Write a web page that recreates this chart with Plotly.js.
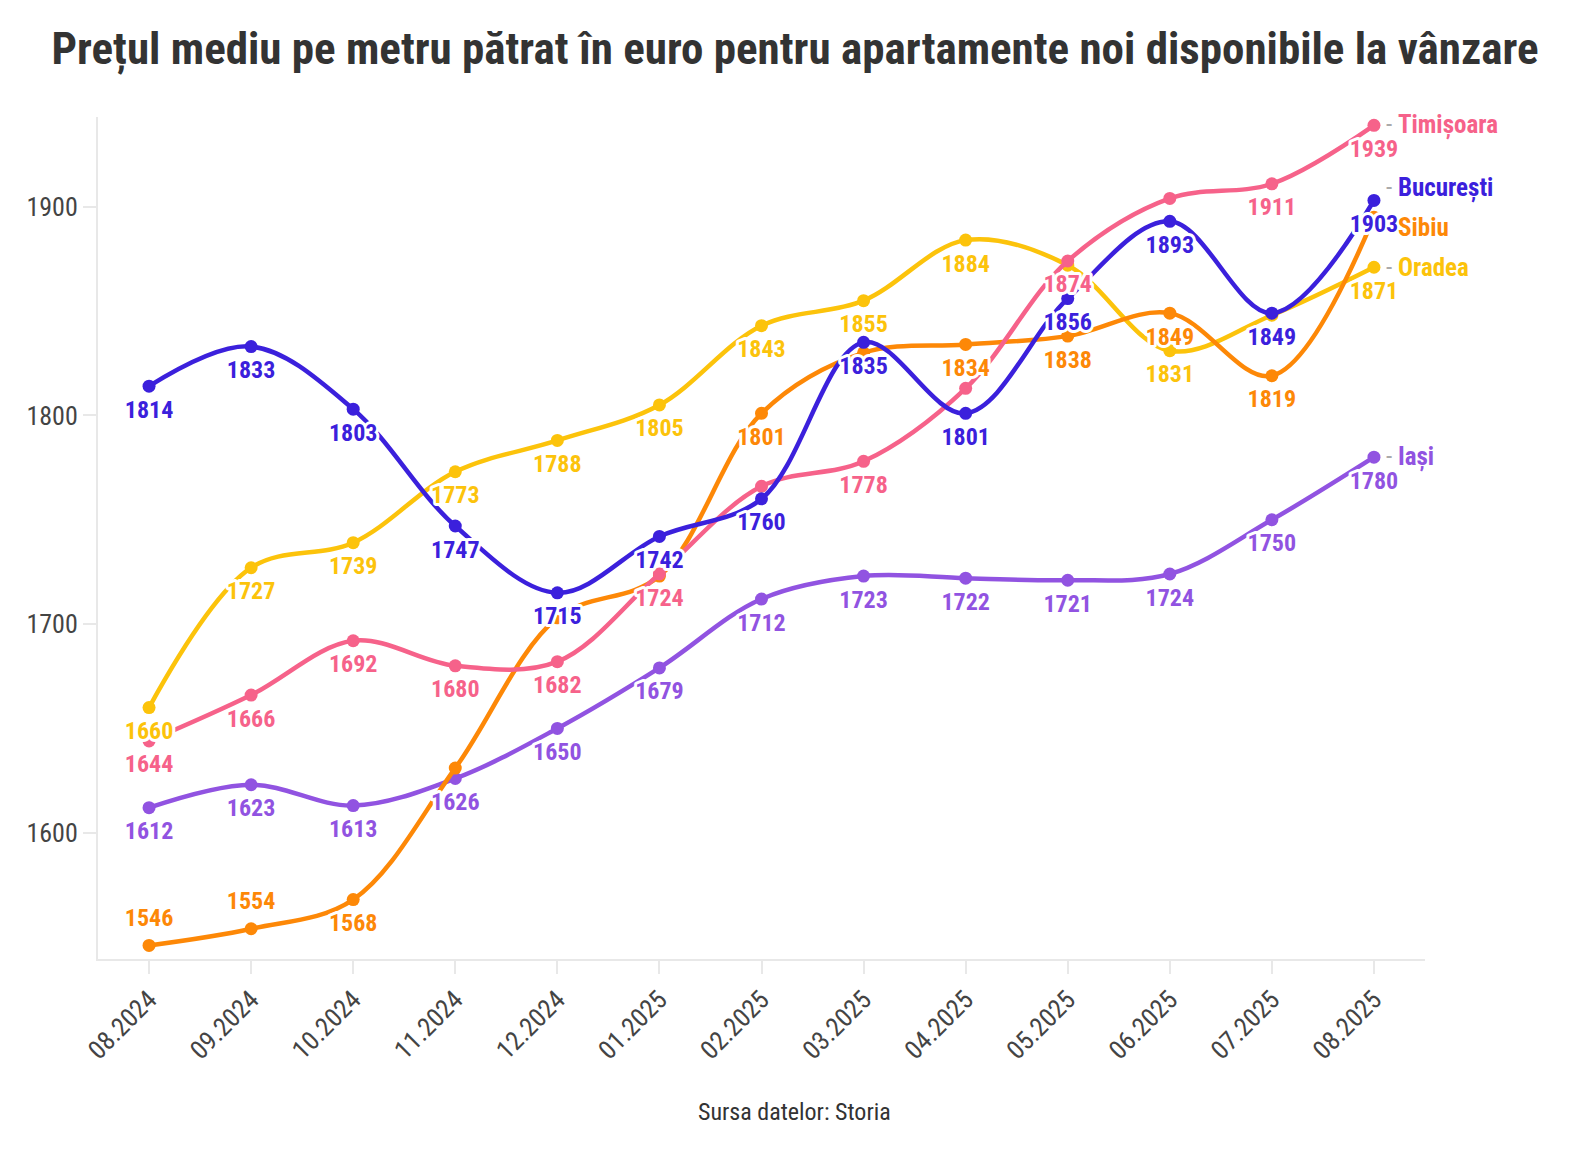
<!DOCTYPE html>
<html>
<head>
<meta charset="utf-8">
<script src="https://cdn.plot.ly/plotly-3.0.1.min.js"></script>
<style>
html,body{margin:0;padding:0;background:#fff;}
#chart{width:1590px;height:1150px;}
</style>
</head>
<body>
<div id="chart"></div>
<script>
const months = ["08.2024","09.2024","10.2024","11.2024","12.2024","01.2025","02.2025","03.2025","04.2025","05.2025","06.2025","07.2025","08.2025"];
const cities = ["Timișoara","București","Sibiu","Oradea","Iași"];
const timisoara = [1644,1666,1692,1680,1682,1724,1766,1778,1813,1874,1904,1911,1939];
const bucuresti = [1814,1833,1803,1747,1715,1742,1760,1835,1801,1856,1893,1849,1903];
const sibiu     = [1546,1554,1568,1631,1703,1723,1801,1830,1834,1838,1849,1819,1895];
const oradea    = [1660,1727,1739,1773,1788,1805,1843,1855,1884,1872,1831,1848,1871];
const iasi      = [1612,1623,1613,1626,1650,1679,1712,1723,1722,1721,1724,1750,1780];
// which value labels are shown (1) or hidden (0) in the original
const showTim = [1,1,1,1,1,1,0,1,0,1,0,1,1];
const showBuc = [1,1,1,1,1,1,1,1,1,1,1,1,1];
const showSib = [1,1,1,0,0,0,1,0,1,1,1,1,0];
const showOra = [1,1,1,1,1,1,1,1,1,0,1,0,1];
const showIas = [1,1,1,1,1,1,1,1,1,1,1,1,1];
const posSib  = ["top center","top center","bottom center","bottom center","bottom center","bottom center","bottom center","bottom center","bottom center","bottom center","bottom center","bottom center","bottom center"];

const FONT = "'Roboto Condensed', 'Liberation Sans Narrow', 'Arial Narrow', 'DejaVu Sans Condensed', sans-serif";
const colors = {"Timișoara":"#f6628a","București":"#3b20dc","Sibiu":"#fd8807","Oradea":"#fcc30b","Iași":"#9153e1"};
const series = [
  {name:"Iași", y:iasi, show:showIas, pos:"bottom center"},
  {name:"Oradea", y:oradea, show:showOra, pos:"bottom center"},
  {name:"Sibiu", y:sibiu, show:showSib, pos:posSib},
  {name:"Timișoara", y:timisoara, show:showTim, pos:"bottom center"},
  {name:"București", y:bucuresti, show:showBuc, pos:"bottom center"}
];

const traces = [];
series.forEach(s => {
  traces.push({
    type:"scatter", mode:"lines+markers", x:months, y:s.y, name:s.name,
    line:{color:colors[s.name], width:4.5, shape:"spline", smoothing:1},
    marker:{color:colors[s.name], size:13},
    hoverinfo:"skip", showlegend:false
  });
});
series.forEach(s => {
  traces.push({
    type:"scatter", mode:"markers+text", x:months, y:s.y, name:s.name+" labels",
    marker:{size:20, opacity:0, color:colors[s.name]},
    text:s.y.map((v,i)=> s.show[i] ? String(v) : ""),
    textposition:s.pos,
    textfont:{family:FONT, size:24, color:colors[s.name], weight:700},
    hoverinfo:"skip", showlegend:false
  });
});

const endShift = {"Timișoara":0,"București":12,"Sibiu":-10,"Oradea":0,"Iași":0};
const lastIdx = months.length-1;
const endVals = {"Timișoara":timisoara[lastIdx],"București":bucuresti[lastIdx],"Sibiu":sibiu[lastIdx],"Oradea":oradea[lastIdx],"Iași":iasi[lastIdx]};
const annotations = cities.map(c => ({
  x: lastIdx, y: endVals[c], xref:"x", yref:"y",
  text: (c === "Sibiu" ? "" : "<span style='color:#aaaaaa;font-weight:400'>- </span>") + c,
  showarrow:false, xanchor:"left", yanchor:"middle", xshift:(c === "Sibiu" ? 22 : 10), yshift:endShift[c],
  font:{family:FONT, size:25, color:colors[c], weight:700}
}));
annotations.push({
  text:"Sursa datelor: Storia", xref:"paper", yref:"paper", x:0.525, y:-0.182,
  xanchor:"center", yanchor:"middle", showarrow:false,
  font:{family:FONT, size:24, color:"#333333"}
});

const layout = {
  width:1590, height:1150,
  margin:{l:98, r:165, t:117, b:191},
  paper_bgcolor:"#ffffff", plot_bgcolor:"#ffffff",
  title:{text:"Prețul mediu pe metru pătrat în euro pentru apartamente noi disponibile la vânzare",
    font:{family:FONT, size:45, color:"#333333", weight:700}, x:0.5, xref:"container", y:0.958, yanchor:"middle"},
  xaxis:{type:"category", range:[-0.5,12.5], showgrid:false, zeroline:false,
    showline:true, linecolor:"#e8e8e8", linewidth:2,
    ticks:"outside", ticklen:13, tickwidth:2, tickcolor:"#e8e8e8",
    tickangle:-45, tickfont:{family:FONT, size:26, color:"#444444"}},
  yaxis:{range:[1539.5,1943], showgrid:false, zeroline:false,
    showline:true, linecolor:"#e8e8e8", linewidth:2,
    tickvals:[1600,1700,1800,1900], ticks:"outside", ticklen:13, tickwidth:2, tickcolor:"#e8e8e8",
    tickfont:{family:FONT, size:26, color:"#444444"}},
  annotations:annotations,
  showlegend:false
};
function addHalo(){
  document.querySelectorAll("#chart .scatterlayer text").forEach(t => {
    t.setAttribute("stroke", "#ffffff");
    t.setAttribute("stroke-width", "6");
    t.setAttribute("stroke-linejoin", "round");
    t.setAttribute("paint-order", "stroke");
    t.style.stroke = "#ffffff";
    t.style.strokeWidth = "6px";
    t.style.strokeLinejoin = "round";
    t.style.paintOrder = "stroke";
  });
}
const gd = document.getElementById("chart");
Plotly.newPlot(gd, traces, layout, {displayModeBar:false, staticPlot:true}).then(() => {
  addHalo();
  gd.on("plotly_afterplot", addHalo);
});
</script>
</body>
</html>
